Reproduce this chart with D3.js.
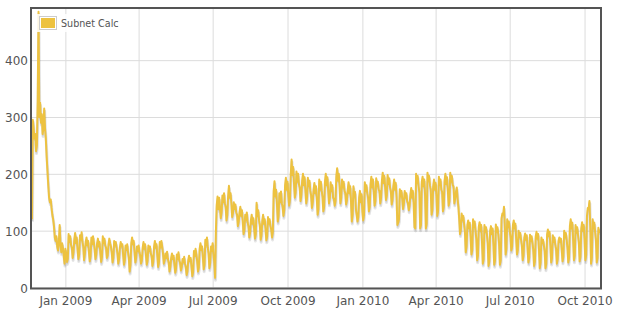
<!DOCTYPE html>
<html><head><meta charset="utf-8">
<script src="https://cdn.jsdelivr.net/npm/d3@7"></script>
<style>html,body{margin:0;padding:0;background:#fff;} svg{display:block;}</style>
</head><body><svg id="chart" width="620" height="321"></svg>
<script>
const seriesName = "Subnet Calc";
const startDate = "2008-11-21";
const values = [
120,295,280,262,270,240,250,330,485,300,325,290,305,270,280,315,280,262,230,205,180,158,150,155,140,128,120,108,88,82,90,72,65,80,110,75,62,78,70,55,42,68,60,45,50,
94,80,90,75,70,52,62,
85,96,78,88,66,50,58,
92,84,97,80,72,48,60,
80,88,74,82,62,46,55,
88,76,90,80,66,50,58,
78,86,72,80,60,45,54,
90,78,86,74,70,52,56,
76,86,78,72,62,44,52,
82,74,80,70,60,42,50,
70,80,72,76,58,40,48,
74,66,76,62,52,28,40,
78,88,76,82,62,44,52,
72,64,74,62,56,42,48,
70,80,68,76,58,40,47,
74,64,72,60,55,38,45,
72,82,70,76,56,36,44,
80,70,82,72,60,42,48,
60,52,63,50,44,28,36,
52,60,50,56,40,26,33,
58,50,62,48,43,30,36,
50,44,54,42,36,22,28,
48,56,46,52,36,20,27,
64,55,68,58,46,28,35,
68,78,66,72,54,32,40,
84,74,88,70,60,34,44,
72,64,78,58,45,17,100,
145,160,138,158,140,122,132,
162,150,166,148,142,118,128,
160,179,158,166,148,124,132,
150,138,146,132,128,108,116,
132,142,126,136,116,94,102,
128,118,132,114,108,88,96,
118,128,112,122,104,86,94,
149,126,136,118,110,84,92,
118,128,112,120,102,83,90,
124,112,120,108,102,88,98,
170,187,160,172,148,116,126,
166,150,169,148,142,126,136,
180,193,172,186,162,144,154,
200,225,198,212,182,158,168,
204,186,200,182,176,152,162,
188,200,180,194,170,148,158,
193,178,188,170,162,140,150,
172,184,166,178,156,128,138,
190,172,186,170,160,134,142,
186,200,180,194,170,148,158,
185,170,180,158,156,144,152,
196,210,188,200,178,148,158,
190,176,186,170,166,146,154,
172,185,166,178,152,116,128,
178,160,168,138,128,116,124,
158,170,150,164,134,118,128,
185,170,180,166,158,134,142,
182,195,176,190,168,144,152,
192,178,186,172,170,148,158,
188,202,184,196,176,154,162,
198,182,192,176,170,146,154,
178,190,172,184,158,110,114,
120,173,160,170,156,138,148,
170,158,166,152,148,136,144,
164,175,158,170,148,106,104,
200,184,196,178,168,104,110,
186,195,178,190,164,104,112,
202,188,196,180,172,128,136,
178,190,172,184,162,126,134,
195,180,190,172,168,134,142,
188,200,182,194,172,144,152,
202,186,196,180,178,148,156,
168,176,156,142,120,94,102,
130,118,126,112,98,62,72,
110,118,104,114,88,58,66,
120,106,116,100,86,48,56,
106,115,100,110,80,42,50,
110,98,106,94,78,38,46,
100,108,94,104,76,40,48,
111,98,106,94,78,40,48,
122,130,128,142,108,58,68,
120,106,116,100,90,65,72,
110,118,104,112,86,58,66,
100,88,96,84,74,48,56,
88,95,84,92,68,44,52,
93,82,90,78,66,38,46,
90,98,86,94,68,34,44,
88,78,84,74,64,34,42,
94,102,90,98,74,44,52,
92,80,88,76,68,42,50,
82,88,80,86,66,46,54,
100,88,96,84,70,44,52,
108,120,104,114,84,48,56,
110,96,106,92,80,46,54,
104,115,100,110,84,48,57,
126,140,138,152,108,42,52,
120,104,114,98,84,44,52,
105,98,96
];
const yTicks = [0,100,200,300,400];
const xTickDates = ["2009-01-01","2009-04-01","2009-07-01","2009-10-01","2010-01-01","2010-04-01","2010-07-01","2010-10-01"];
const xTickLabels = ["Jan 2009","Apr 2009","Jul 2009","Oct 2009","Jan 2010","Apr 2010","Jul 2010","Oct 2010"];
const lineColor = "#edc240";

(function(){
const parse = d3.utcParse("%Y-%m-%d");
const start = parse(startDate);
const data = values.map((v,i)=>({date:d3.utcDay.offset(start,i), value:v}));

const pL=32, pR=600, pT=9, pB=287.5;
const svg = d3.select("#chart");
const x = d3.scaleUtc().domain([data[0].date, data[data.length-1].date]).range([pL,pR]);
const y = d3.scaleLinear().domain([0,490]).range([pB,pT]);

const font = "'DejaVu Sans', 'Lucida Grande', sans-serif";
const labelColor = "#545454";

const xAxis = d3.axisBottom(x)
  .tickValues(xTickDates.map(parse))
  .tickFormat((d,i)=>xTickLabels[i])
  .tickSizeInner(-(pB-pT)).tickSizeOuter(0).tickPadding(9);
const gx = svg.append("g").attr("transform",`translate(0,${pB})`).call(xAxis);
gx.select(".domain").remove();
gx.selectAll(".tick line").attr("stroke","#dcdcdc");
gx.selectAll(".tick text").attr("fill",labelColor).style("font-family",font).style("font-size","12px");

const yAxis = d3.axisLeft(y).tickValues(yTicks).tickFormat(d3.format("d"))
  .tickSizeInner(-(pR-pL)).tickSizeOuter(0).tickPadding(4);
const gy = svg.append("g").attr("transform",`translate(${pL},0)`).call(yAxis);
gy.select(".domain").remove();
gy.selectAll(".tick line").attr("stroke","#dcdcdc");
gy.selectAll(".tick text").attr("fill",labelColor).style("font-family",font).style("font-size","12px")
  .attr("dy","0.4em");

const lw=2, sw=3, ang=Math.PI/18;
function lineGen(dx,dy){
  return d3.line().x(d=>x(d.date)+dx).y(d=>y(d.value)+dy).curve(d3.curveLinear);
}
const gs = svg.append("g");
gs.append("path").datum(data).attr("d",lineGen(Math.sin(ang)*(lw/2+sw/2), Math.cos(ang)*(lw/2+sw/2)))
  .attr("fill","none").attr("stroke","rgba(0,0,0,0.1)").attr("stroke-width",sw).attr("stroke-linejoin","round");
gs.append("path").datum(data).attr("d",lineGen(Math.sin(ang)*(lw/2+sw/4), Math.cos(ang)*(lw/2+sw/4)))
  .attr("fill","none").attr("stroke","rgba(0,0,0,0.1)").attr("stroke-width",sw/2).attr("stroke-linejoin","round");
gs.append("path").datum(data).attr("d",lineGen(0,0))
  .attr("fill","none").attr("stroke",lineColor).attr("stroke-width",lw).attr("stroke-linejoin","round");

svg.append("rect").attr("x",pL-1).attr("y",pT-1).attr("width",pR-pL+2).attr("height",pB-pT+2)
  .attr("fill","none").attr("stroke","#545454").attr("stroke-width",2);

const lg = svg.append("g").attr("transform",`translate(${pL+5},${pT+5})`);
lg.append("rect").attr("x",0).attr("y",0).attr("width",85).attr("height",18).attr("fill","#fff").attr("opacity",0.85);
lg.append("rect").attr("x",2.5).attr("y",2.5).attr("width",17).attr("height",13).attr("fill","none").attr("stroke","#ccc").attr("stroke-width",1);
lg.append("rect").attr("x",4).attr("y",4).attr("width",14).attr("height",10).attr("fill",lineColor);
lg.append("text").attr("x",24).attr("y",12.8).text(seriesName)
  .attr("fill",labelColor).style("font-family",font).style("font-size","9.6px");
})();
</script>
</body></html>
